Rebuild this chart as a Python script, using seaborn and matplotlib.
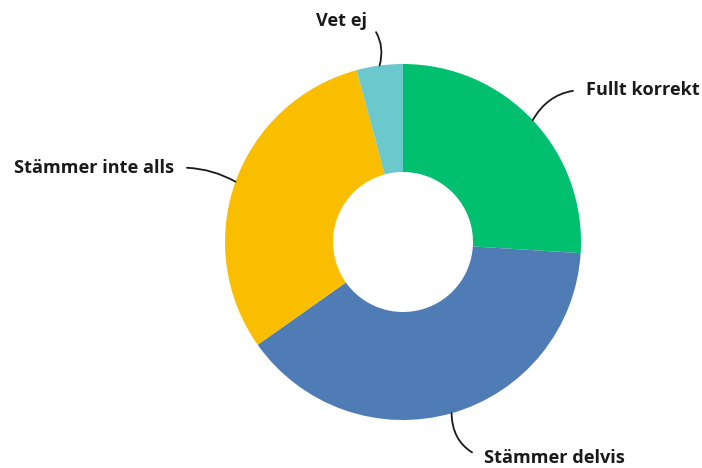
import numpy as np
import matplotlib
matplotlib.use("Agg")
import matplotlib.pyplot as plt
import seaborn as sns

# data
kategorier = ["Fullt korrekt", "Stämmer delvis", "Stämmer inte alls", "Vet ej"]
andelar = [26.0, 39.2, 30.6, 4.2]
farger = ["#00BF6F", "#507CB6", "#F9BE00", "#6BC8CD"]

# label positions (pixels, y from top) and curvature of the leader line
text_pos = [(586, 90), (484, 458), (174, 168), (367, 21)]
text_ha = ["left", "left", "right", "right"]
kurvor = [0.3, -0.35, -0.15, -0.3]

sns.set_theme(style="white")
plt.rcParams["font.family"] = ["Open Sans", "DejaVu Sans"]

W, H = 702, 468
fig = plt.figure(figsize=(W / 100, H / 100), dpi=100)
ax = fig.add_axes([0, 0, 1, 1])

cx, cy, R = 403, H - 242, 178
wedges, _ = ax.pie(andelar, colors=farger, startangle=90, counterclock=False,
                   center=(cx, cy), radius=R, frame=True,
                   wedgeprops=dict(width=R - 70, linewidth=0))
ax.set_xlim(0, W)
ax.set_ylim(0, H)
ax.axis("off")

for w, namn, (tx, ty), ha, rad in zip(wedges, kategorier, text_pos, text_ha, kurvor):
    ang = np.deg2rad((w.theta1 + w.theta2) / 2)
    px, py = cx + R * np.cos(ang), cy + R * np.sin(ang)
    relx = 0 if ha == "left" else 1
    ax.annotate(namn, xy=(px, py), xytext=(tx, H - ty), ha=ha, va="center",
                fontsize=13.1, fontweight="bold", color="#1a1a1a",
                arrowprops=dict(arrowstyle="-", color="#1a1a1a", lw=1.3,
                                connectionstyle=f"arc3,rad={rad}",
                                relpos=(relx, 0.5), shrinkA=7, shrinkB=0))

fig.savefig("out.png", dpi=100)
